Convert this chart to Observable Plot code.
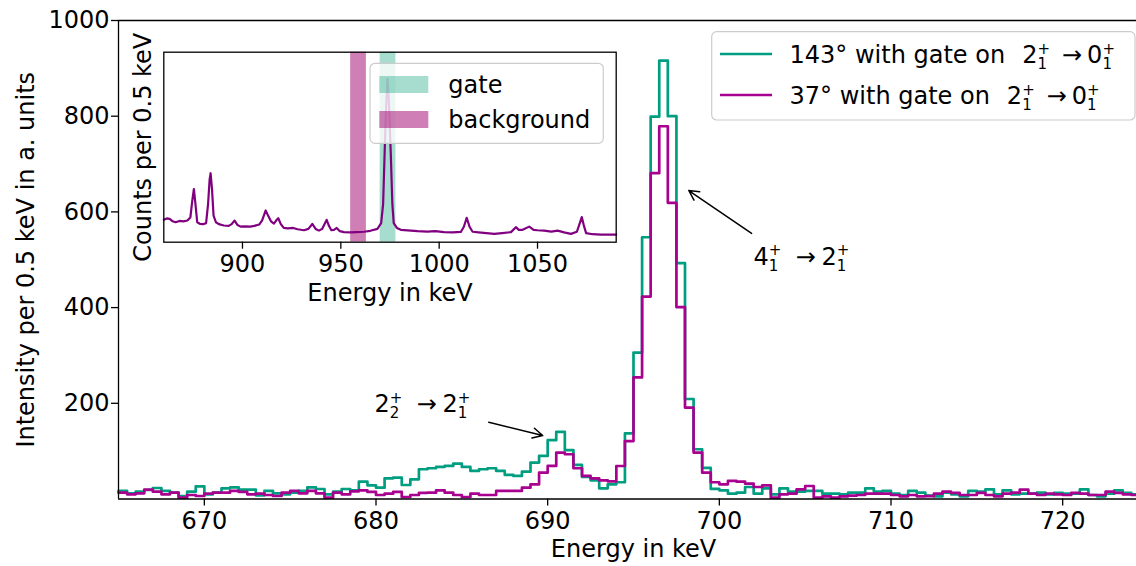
<!DOCTYPE html>
<html><head><meta charset="utf-8">
<script src="https://cdn.jsdelivr.net/npm/d3@7"></script>
<script src="https://cdn.jsdelivr.net/npm/@observablehq/plot@0.6"></script>
<style>
html,body{margin:0;padding:0;background:#fff;}
#wrap{position:relative;width:1136px;height:566px;overflow:hidden;font-family:"DejaVu Sans";}
#wrap > svg{position:absolute;}
</style></head><body><div id="wrap"></div>
<script>
// ---- data ----
const binStart = 665, binWidth = 0.5;
// 143 deg, gate on 2+ -> 0+  (bins 665.0 ... 724.5)
const counts143 = [
  16.8, 11.9, 15.4, 18.8, 23, 16.8, 13.3, 6.3, 15.4, 26.5,
  9.8, 13.3, 22.3, 24.4, 19.5, 19.5, 7.7, 16.8, 11.9, 9.8,
  13.3, 16.8, 24.4, 20.9, 9.8, 15.4, 20.9, 18, 36.3, 28.6,
  23.7, 43.3, 44.7, 29.3, 41.2, 62.2, 64.3, 67, 69.1, 74,
  67, 58.6, 62.2, 64.3, 58.6, 50.3, 48.2, 57.2, 76.1, 90.1,
  122.9, 140.4, 102, 71.3, 46.1, 39.1, 22.3, 30.7, 35, 137,
  306, 547, 799, 916, 800, 493, 209, 104, 65, 21,
  18.2, 11.2, 13.3, 25.1, 11.2, 22.3, 9.8, 22.3, 15.4, 15.4,
  16.8, 16.8, 11.2, 11.2, 9.8, 13.3, 13.3, 22.3, 15.4, 16.8,
  11.2, 8.4, 16.8, 13.3, 7, 5.6, 13.3, 9.8, 5.6, 16.8,
  15.4, 20.2, 9.8, 18.2, 9.8, 11.2, 11.2, 13.3, 9.8, 12.6,
  11.2, 11.2, 20.2, 8.4, 5.6, 11.2, 18.2, 12.6, 9.8, 10
];
// 37 deg, gate on 2+ -> 0+
const counts37 = [
  13.3, 9.8, 11.9, 19.5, 15.4, 9.8, 13.3, 2.8, 8.4, 6.3,
  11.2, 13.3, 13.3, 16.8, 14.7, 9.8, 11.2, 8.4, 6.3, 13.3,
  16.8, 11.9, 16.8, 11.9, 2.8, 13.3, 9.8, 16, 18.2, 14.7,
  8.4, 11.2, 14.7, 4.2, 8.4, 12.6, 13.3, 18.2, 13.3, 8.4,
  4.2, 11.2, 8.4, 8.4, 16.8, 16.8, 16.8, 23.7, 30.7, 55.1,
  69.1, 97, 93.5, 64.3, 48.2, 43.3, 39.1, 37, 69, 121,
  254, 423, 681, 779, 619, 401, 191, 97, 55, 35,
  30.7, 37.7, 36.3, 32, 25.1, 28.6, 2.8, 9.8, 11.2, 20.2,
  27.2, 2.8, 5.6, 2.8, 5.6, 7, 8.4, 11.2, 11.2, 11.2,
  8.4, 5.6, 8.4, 5.6, 6, 11.2, 15.4, 12.6, 8.4, 8.4,
  12.6, 8.4, 5.6, 11.2, 13.3, 19.5, 11.2, 8.4, 11.2, 9.8,
  8.4, 12.6, 11.2, 8.4, 8.4, 15.4, 12.6, 9.8, 8.4, 9
];
// inset: projected spectrum (arbitrary units)
const insetEnergy = [860,861.5,863,864.5,866,868,870,872,873.5,874.5,875.3,876,877,878.5,880,881.5,882.5,883.3,883.8,884.5,885.3,886.5,888,890.5,893,894.5,896,897.5,899,901,904,906,908.5,910,911.8,913,914.5,916,917.2,918.2,919.5,921,923,925.8,928,931.3,933.5,935.5,937.2,938.9,940.5,942.8,944,945.2,946.5,947.9,949.5,951.6,955,958,961.8,965,968.6,970.5,971.5,972.3,973,973.7,974.4,975.4,976.2,976.9,978.5,980.5,984,989,994,998,1002.5,1007,1011,1012.5,1014,1015.5,1017,1020,1024,1028,1032,1036.5,1039,1040.5,1042.4,1045.8,1048,1050,1053.4,1057,1060.2,1063.5,1067,1070,1071.5,1072.5,1073.5,1074.7,1078,1082.3,1086,1090];
const insetCounts = [11.8,12.5,12.3,11,10.5,11.2,11,11.4,13,22,28,21,10.5,9.6,9.5,10,20,33,36.3,28,14,10.5,9.5,8.8,8.6,9.5,11.4,9,8.2,8.3,8.2,8.6,9.3,11.5,16.7,14,11,9.8,11.5,12.6,9.5,7.5,7.3,7.5,6.8,6.3,7,9.6,7,6.1,7,11.8,8.5,6.3,6.5,7.5,5.8,5.3,5.2,5.3,5.5,6,7,10,20,48,70,86,75,46.5,20,10,7.5,6.5,6.2,5.8,5.6,5.8,5.3,5.2,5.4,8,12.8,8,5.5,5.2,4.8,4.4,4.8,5.3,7.9,6.5,6.5,8.2,6.5,6.3,6.1,5.6,6.1,5.2,4.4,5.5,10,13.2,9,4.8,4.2,4,4,4];
const gateWindow = [970, 978];
const backgroundWindow = [955, 963];
const mainXTicks = [670, 680, 690, 700, 710, 720];
const mainYTicks = [200, 400, 600, 800, 1000];
const insetXTicks = [900, 950, 1000, 1050];
const seriesNames = ["143° with gate on", "37° with gate on"];
const insetLegend = ["gate", "background"];
// annotations in data units (energy keV, intensity)
const annotationArrows = [
  {x1: 686.57, y1: 160.5, x2: 689.71, y2: 132.7},
  {x1: 701.88, y1: 555, x2: 698.22, y2: 644.7}
];
const annotationTexts = [
  {e: 679.94, v: 180, base: "2", sub: "2"},
  {e: 702.02, v: 488, base: "4", sub: "1"}
];

// ---- styles ----
const C143 = "#009E80", C37 = "#A8008F", CINSET = "#800080";
const GATEC = "#009E73", BGC = "#A0006E";
const FONT = "DejaVu Sans";
const fmt = d => String(d);

function toSteps(vals) {
  const pts = vals.map((v, i) => ({e: binStart + i * binWidth, v}));
  pts.push({e: binStart + vals.length * binWidth, v: vals[vals.length - 1]});
  return pts;
}

const wrap = document.getElementById("wrap");

const main = Plot.plot({
  width: 1136, height: 566,
  marginLeft: 118, marginTop: 20, marginBottom: 67.5, marginRight: 0,
  style: {fontFamily: FONT, fontSize: "24px", color: "#000", background: "transparent"},
  x: {domain: [665, 725], range: [118, 1148]},
  y: {domain: [0, 1000], range: [498.5, 20]},
  marks: [
    Plot.line(toSteps(counts143), {x: "e", y: "v", curve: "step-after", stroke: C143, strokeWidth: 2.7}),
    Plot.line(toSteps(counts37), {x: "e", y: "v", curve: "step-after", stroke: C37, strokeWidth: 2.7}),
    Plot.ruleY([0, 1000], {stroke: "#000", strokeWidth: 1.3}),
    Plot.ruleX([665], {stroke: "#000", strokeWidth: 1.3}),
    Plot.axisX({ticks: mainXTicks, tickFormat: fmt, tickSize: 7, tickPadding: 6, label: null, fontSize: 24, strokeWidth: 1.3}),
    Plot.axisY({ticks: mainYTicks, tickFormat: fmt, tickSize: 7, tickPadding: 2, label: null, fontSize: 24, strokeWidth: 1.3}),
    Plot.text(["Energy in keV"], {frameAnchor: "bottom", dy: 58, dx: 6, text: d => d, fontSize: 24, textAnchor: "middle"}),
    Plot.text(["Intensity per 0.5 keV in a. units"], {frameAnchor: "left", rotate: -90, dx: -92, text: d => d, fontSize: 24, textAnchor: "middle"}),
    Plot.arrow(annotationArrows, {x1: "x1", y1: "y1", x2: "x2", y2: "y2", stroke: "#000", strokeWidth: 1.5, headLength: 11, headAngle: 55})
  ]
});
main.style.left = "0px"; main.style.top = "0px";
wrap.appendChild(main);

const inset = Plot.plot({
  width: 500, height: 290,
  marginLeft: 43.3, marginTop: 29.7, marginRight: 4.3, marginBottom: 70.3,
  style: {fontFamily: FONT, fontSize: "24px", color: "#000", background: "transparent"},
  x: {domain: [860, 1090]},
  y: {domain: [0, 100], axis: null},
  marks: [
    Plot.frame({fill: "white", stroke: null}),
    Plot.rect([backgroundWindow], {x1: d => d[0], x2: d => d[1], fill: BGC, fillOpacity: 0.5}),
    Plot.rect([gateWindow], {x1: d => d[0], x2: d => d[1], fill: GATEC, fillOpacity: 0.35}),
    Plot.line(insetEnergy.map((e, i) => ({e, c: insetCounts[i]})), {x: "e", y: "c", stroke: CINSET, strokeWidth: 2.2}),
    Plot.frame({stroke: "#000", strokeWidth: 1.3}),
    Plot.axisX({ticks: insetXTicks, tickFormat: fmt, tickSize: 7, tickPadding: 6, label: null, fontSize: 24, strokeWidth: 1.3}),
    Plot.text(["Energy in keV"], {frameAnchor: "bottom", dy: 59, text: d => d, fontSize: 24, textAnchor: "middle"}),
    Plot.text(["Counts per 0.5 keV"], {frameAnchor: "left", rotate: -90, dx: -20, text: d => d, fontSize: 24, textAnchor: "middle"})
  ]
});
inset.style.left = "120px"; inset.style.top = "22px";
wrap.appendChild(inset);

// ---- math-style labels (stacked sub/superscripts) ----
function mathText(g, x, y, parts, size) {
  const small = 15;
  let cx = x;
  for (const p of parts) {
    if (typeof p === "number") { cx += p; continue; }
    if (typeof p === "string") {
      const t = g.append("text").attr("x", cx).attr("y", y).attr("font-size", size).text(p);
      cx += t.node().getComputedTextLength();
    } else {
      const b = g.append("text").attr("x", cx).attr("y", y).attr("font-size", size).text(p.base);
      cx += b.node().getComputedTextLength();
      const sp = g.append("text").attr("x", cx).attr("y", y - 9.5).attr("font-size", small).text(p.sup);
      const sb = g.append("text").attr("x", cx).attr("y", y + 6).attr("font-size", small).text(p.sub);
      cx += Math.max(sp.node().getComputedTextLength(), sb.node().getComputedTextLength());
    }
  }
  return cx;
}

const xs = main.scale("x"), ys = main.scale("y");
const gm = d3.select(main).append("g").attr("font-family", FONT).attr("fill", "#000").attr("text-anchor", "start");

// annotations
for (const a of annotationTexts) {
  mathText(gm, xs.apply(a.e), ys.apply(a.v),
    [{base: a.base, sub: a.sub, sup: "+"}, 14.5, "→", 5.6, {base: "2", sub: "1", sup: "+"}], 24);
}

// main legend
const lg = d3.select(main).append("g").attr("font-family", FONT).attr("fill", "#000").attr("text-anchor", "start");
lg.append("rect").attr("x", 711.7).attr("y", 31.7).attr("width", 423.3).attr("height", 88.3)
  .attr("rx", 5).attr("fill", "white").attr("fill-opacity", 0.8).attr("stroke", "#cccccc").attr("stroke-width", 1.2);
[C143, C37].forEach((c, i) => {
  const yy = 54 + i * 41;
  lg.append("line").attr("x1", 720).attr("x2", 772).attr("y1", yy).attr("y2", yy)
    .attr("stroke", c).attr("stroke-width", 2.7);
  mathText(lg, 789.5, yy + 9.3,
    [seriesNames[i], 17, {base: "2", sub: "1", sup: "+"}, 12, "→", 5, {base: "0", sub: "1", sup: "+"}], 24);
});

// inset legend
const il = d3.select(inset).append("g").attr("font-family", FONT).attr("fill", "#000").attr("text-anchor", "start");
il.append("rect").attr("x", 250).attr("y", 41.3).attr("width", 233.3).attr("height", 80)
  .attr("rx", 5).attr("fill", "white").attr("fill-opacity", 0.8).attr("stroke", "#cccccc").attr("stroke-width", 1.2);
[[GATEC, 0.35], [BGC, 0.5]].forEach(([c, op], i) => {
  const top = 54 + i * 35;
  il.append("rect").attr("x", 259.3).attr("y", top).attr("width", 49).attr("height", 17)
    .attr("fill", c).attr("fill-opacity", op);
  il.append("text").attr("x", 328.3).attr("y", top + 16.7).attr("font-size", 24).text(insetLegend[i]);
});
</script>
</body></html>
